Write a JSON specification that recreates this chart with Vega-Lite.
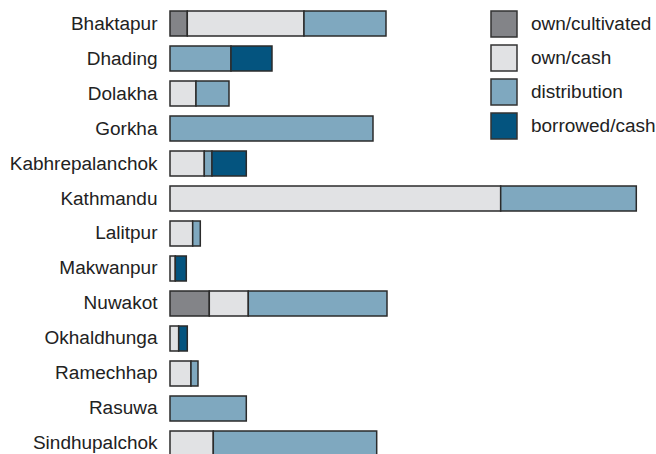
{
  "$schema": "https://vega.github.io/schema/vega-lite/v6.json",
  "autosize": {"type": "none"},
  "padding": {"left": 170, "top": 6, "right": 20, "bottom": 0},
  "width": 466.3,
  "height": 455,
  "background": "white",
  "config": {"view": {"stroke": null}, "font": "Liberation Sans"},
  "data": {"values": [
    {"district": "Bhaktapur", "type": "own/cultivated", "value": 17.3},
    {"district": "Bhaktapur", "type": "own/cash", "value": 116.7},
    {"district": "Bhaktapur", "type": "distribution", "value": 82},
    {"district": "Dhading", "type": "distribution", "value": 61},
    {"district": "Dhading", "type": "borrowed/cash", "value": 41},
    {"district": "Dolakha", "type": "own/cash", "value": 26},
    {"district": "Dolakha", "type": "distribution", "value": 33},
    {"district": "Gorkha", "type": "distribution", "value": 203},
    {"district": "Kabhrepalanchok", "type": "own/cash", "value": 34.3},
    {"district": "Kabhrepalanchok", "type": "distribution", "value": 7.7},
    {"district": "Kabhrepalanchok", "type": "borrowed/cash", "value": 34.3},
    {"district": "Kathmandu", "type": "own/cash", "value": 330.7},
    {"district": "Kathmandu", "type": "distribution", "value": 135.6},
    {"district": "Lalitpur", "type": "own/cash", "value": 22.7},
    {"district": "Lalitpur", "type": "distribution", "value": 7.6},
    {"district": "Makwanpur", "type": "own/cash", "value": 5.3},
    {"district": "Makwanpur", "type": "borrowed/cash", "value": 11},
    {"district": "Nuwakot", "type": "own/cultivated", "value": 39.3},
    {"district": "Nuwakot", "type": "own/cash", "value": 39},
    {"district": "Nuwakot", "type": "distribution", "value": 138.7},
    {"district": "Okhaldhunga", "type": "own/cash", "value": 8.7},
    {"district": "Okhaldhunga", "type": "borrowed/cash", "value": 8.6},
    {"district": "Ramechhap", "type": "own/cash", "value": 21},
    {"district": "Ramechhap", "type": "distribution", "value": 7},
    {"district": "Rasuwa", "type": "distribution", "value": 76.3},
    {"district": "Sindhupalchok", "type": "own/cash", "value": 43.3},
    {"district": "Sindhupalchok", "type": "distribution", "value": 163.4}
  ]},
  "mark": {"type": "bar", "stroke": "#2b2b2b", "strokeWidth": 1.5},
  "encoding": {
    "y": {
      "field": "district", "type": "nominal", "sort": null,
      "scale": {"paddingInner": 0.2857, "paddingOuter": 0.1429},
      "axis": {"title": null, "domain": false, "ticks": false, "labelPadding": 13, "labelFontSize": 19, "labelColor": "#222", "labelFont": "Liberation Sans"}
    },
    "x": {
      "field": "value", "type": "quantitative", "stack": "zero",
      "scale": {"domain": [0, 466.3], "nice": false, "zero": true},
      "axis": null
    },
    "order": {"field": "type", "sort": "descending"},
    "color": {
      "field": "type", "type": "nominal",
      "scale": {
        "domain": ["own/cultivated", "own/cash", "distribution", "borrowed/cash"],
        "range": ["#838488", "#e1e2e4", "#7fa8bf", "#04547f"]
      },
      "legend": {
        "title": null, "orient": "none", "legendX": 320, "legendY": 4, "padding": 0,
        "symbolType": "square", "symbolSize": 676, "symbolStrokeColor": "#333", "symbolStrokeWidth": 1.5,
        "symbolOpacity": 1,
        "labelFontSize": 19, "labelOffset": 13, "rowPadding": 2, "labelColor": "#222", "labelFont": "Liberation Sans",
        "labelLimit": 200
      }
    }
  }
}
